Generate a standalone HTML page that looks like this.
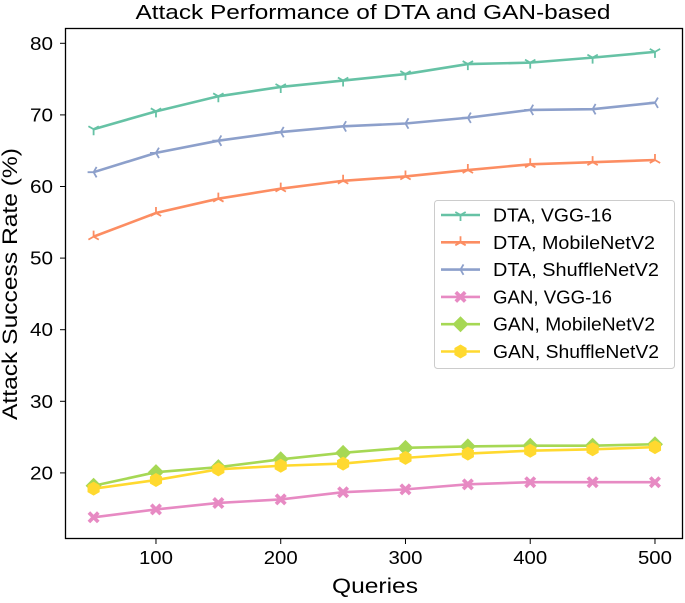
<!DOCTYPE html>
<html><head><meta charset="utf-8"><style>
body{margin:0;background:#fff;}
svg text{font-family:"Liberation Sans","DejaVu Sans",sans-serif;fill:#000;}
</style></head><body>
<svg id="chart" width="685" height="598" xmlns="http://www.w3.org/2000/svg">
<text x="373" y="19" text-anchor="middle" font-size="20" textLength="475" lengthAdjust="spacingAndGlyphs">Attack Performance of DTA and GAN-based</text>
<g id="plot"></g>
<text x="375" y="593" text-anchor="middle" font-size="21" textLength="86" lengthAdjust="spacingAndGlyphs">Queries</text>
<text transform="translate(17,284) rotate(-90)" text-anchor="middle" font-size="21" textLength="272" lengthAdjust="spacingAndGlyphs">Attack Success Rate (%)</text>
</svg>
<script>
const queries=[50,100,150,200,250,300,350,400,450,500];
const dtaVgg=[68,70.5,72.6,73.9,74.8,75.7,77.1,77.3,78.0,78.8];
const dtaMobile=[53,56.3,58.3,59.7,60.8,61.4,62.3,63.1,63.4,63.7];
const dtaShuffle=[62,64.7,66.4,67.6,68.4,68.8,69.6,70.7,70.8,71.7];
const ganVgg=[13.8,14.9,15.8,16.3,17.3,17.7,18.4,18.7,18.7,18.7];
const ganMobile=[18.2,20.1,20.8,21.9,22.8,23.5,23.7,23.8,23.8,24.0];
const ganShuffle=[17.8,19.0,20.5,21.0,21.3,22.1,22.7,23.1,23.3,23.6];
const xTicks=[100,200,300,400,500];
const yTicks=[20,30,40,50,60,70,80];
const seriesNames=["DTA, VGG-16","DTA, MobileNetV2","DTA, ShuffleNetV2","GAN, VGG-16","GAN, MobileNetV2","GAN, ShuffleNetV2"];

const NS="http://www.w3.org/2000/svg";
const X=v=>93.6+(v-50)*1.2475;
const Y=v=>43.3+(80-v)*7.16;
const g=document.getElementById('plot');
function mk(t,a,p){const e=document.createElementNS(NS,t);for(const k in a)e.setAttribute(k,a[k]);(p||g).appendChild(e);return e;}
const colors=["#66c2a5","#fc8d62","#8da0cb","#e78ac3","#a6d854","#ffd92f"];
const kinds=["tridown","triup","trileft","x","diamond","hex"];
function marker(k,x,y,c,par){
  if(k==="tridown"||k==="triup"||k==="trileft"){
    const r=6;const angs=k==="tridown"?[90,210,330]:k==="triup"?[270,30,150]:[180,300,60];
    let d="";angs.forEach(a=>{const t=a*Math.PI/180;d+=`M${x},${y}L${x+r*Math.cos(t)},${y+r*Math.sin(t)}`;});
    return mk('path',{d:d,stroke:c,'stroke-width':1.8,fill:'none'},par);
  }
  if(k==="x"){const r=6,w=2.6;return mk('path',{d:`M${x-r+w},${y-r}L${x},${y-w}L${x+r-w},${y-r}L${x+r},${y-r+w}L${x+w},${y}L${x+r},${y+r-w}L${x+r-w},${y+r}L${x},${y+w}L${x-r+w},${y+r}L${x-r},${y+r-w}L${x-w},${y}L${x-r},${y-r+w}Z`,fill:c},par);}
  if(k==="diamond"){const r=8;return mk('path',{d:`M${x},${y-r}L${x+r},${y}L${x},${y+r}L${x-r},${y}Z`,fill:c},par);}
  let d="";for(let i=0;i<6;i++){const t=(i*60+30)*Math.PI/180;d+=(i?"L":"M")+(x+7*Math.cos(t))+","+(y+7*Math.sin(t));}
  return mk('path',{d:d+"Z",fill:c},par);
}
const fr=mk('rect',{x:65.5,y:28.5,width:617,height:510,fill:'none',stroke:'#000','stroke-width':1.3});


xTicks.forEach(t=>{
  const l=mk('line',{x1:X(t),x2:X(t),y1:539,y2:544,stroke:'#000'});
  
  
  const tx=mk('text',{x:X(t),y:564,'text-anchor':'middle','font-size':18,textLength:34,lengthAdjust:'spacingAndGlyphs'});tx.textContent=t;
  
  
});
yTicks.forEach(t=>{
  const l=mk('line',{x1:60,x2:65.5,y1:Y(t),y2:Y(t),stroke:'#000'});
  
  
  const tx=mk('text',{x:53,y:Y(t)+6.5,'text-anchor':'end','font-size':18,textLength:23,lengthAdjust:'spacingAndGlyphs'});tx.textContent=t;
  
  
});
const all=[dtaVgg,dtaMobile,dtaShuffle,ganVgg,ganMobile,ganShuffle];
const snames=['series-dta-vgg16','series-dta-mobilenetv2','series-dta-shufflenetv2','series-gan-vgg16','series-gan-mobilenetv2','series-gan-shufflenetv2'];
all.forEach((s,i)=>{
  const sg=mk('g',{});
  
  
  const pl=mk('polyline',{points:s.map((v,j)=>X(queries[j])+","+Y(v)).join(" "),fill:'none',stroke:colors[i],'stroke-width':2.6},sg);
  
  
  s.forEach((v,j)=>{const m=marker(kinds[i],X(queries[j]),Y(v),colors[i],sg);
    
    });
});
const lg=mk('g',{});


mk('rect',{x:434.5,y:200.5,width:240,height:168,rx:3,fill:'#fff','fill-opacity':0.85,stroke:'#ccc'},lg);
const legLens=[119,162,166,119,162,166];
seriesNames.forEach((n,i)=>{
  const y=215+i*27.3;
  const eg=mk('g',{},lg);
  
  
  mk('line',{x1:441,x2:480,y1:y,y2:y,stroke:colors[i],'stroke-width':2.6},eg);
  marker(kinds[i],460.5,y,colors[i],eg);
  const t=mk('text',{x:493,y:y+6.5,'font-size':18,textLength:legLens[i],lengthAdjust:'spacingAndGlyphs'},eg);t.textContent=n;
});
</script>
</body></html>
